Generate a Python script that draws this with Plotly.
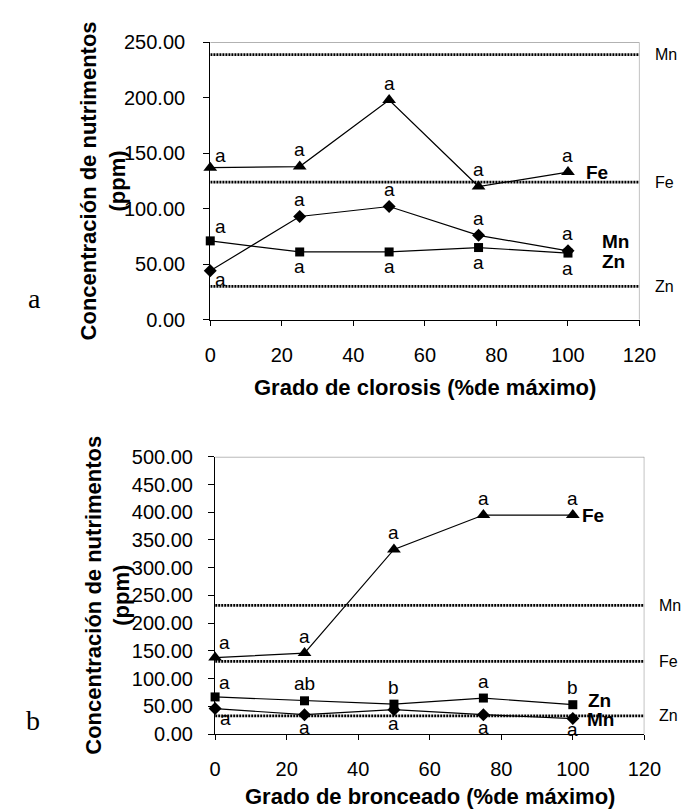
import plotly.graph_objects as go

# ---------------- data ----------------
x_pts = [0, 25, 50, 75, 100]
x_ticks = [0, 20, 40, 60, 80, 100, 120]

# Panel a: Grado de clorosis
fe_a = [137, 138, 198, 120, 133]
mn_a = [44, 93, 102, 76, 62]
zn_a = [71, 61, 61, 65, 60]
ref_names = ["Mn", "Fe", "Zn"]
ref_a = [239, 124, 30]
fe_a_lbl = ["a", "a", "a", "a", "a"]
mn_a_lbl = ["a", "a", "a", "a", "a"]
zn_a_lbl = ["a", "a", "a", "a", "a"]

# Panel b: Grado de bronceado
fe_b = [138, 146, 333, 395, 395]
mn_b = [46, 35, 44, 35, 28]
zn_b = [67, 60, 54, 65, 53]
ref_b = [232, 131, 33]
fe_b_lbl = ["a", "a", "a", "a", "a"]
zn_b_lbl = ["a", "ab", "b", "a", "b"]
mn_b_lbl = ["a", "a", "a", "a", "a"]

y_title = "Concentración de nutrimentos<br>(ppm)"
x_title_a = "Grado de clorosis (%de máximo)"
x_title_b = "Grado de bronceado (%de máximo)"

# ---------------- figure ----------------
W, H = 693, 812
FONT = "Liberation Sans, Arial, sans-serif"

def px_x(p):
    return p / W

def px_y(p):
    return 1 - p / H

fig = go.Figure()

marker_defs = {
    "Fe": dict(symbol="triangle-up", size=12),
    "Mn": dict(symbol="diamond", size=10),
    "Zn": dict(symbol="square", size=9),
}

def add_series(xa, ya, vals, key):
    fig.add_trace(go.Scatter(
        x=x_pts, y=vals, mode="lines+markers", xaxis=xa, yaxis=ya,
        line=dict(color="black", width=1.2),
        marker=dict(color="black", **marker_defs[key]),
        cliponaxis=False, showlegend=False, hoverinfo="skip"))

add_series("x", "y", fe_a, "Fe")
add_series("x", "y", mn_a, "Mn")
add_series("x", "y", zn_a, "Zn")
add_series("x2", "y2", fe_b, "Fe")
add_series("x2", "y2", mn_b, "Mn")
add_series("x2", "y2", zn_b, "Zn")

shapes = []
annotations = []

def add_refs(xref, yref, refs):
    for name, v in zip(ref_names, refs):
        shapes.append(dict(type="line", xref=xref, yref=yref, x0=-0.8, x1=120, y0=v, y1=v,
                           line=dict(color="black", width=2.8, dash="2px,1px"), layer="below"))
        annotations.append(dict(xref=xref + " domain", yref=yref, x=1, xshift=13, y=v,
                                text=name, showarrow=False, xanchor="left", yanchor="middle",
                                font=dict(family=FONT, size=16, color="black")))

add_refs("x", "y", ref_a)
add_refs("x2", "y2", ref_b)

# grey frame (top + right)
for xref, yref, ytop in [("x", "y", 250), ("x2", "y2", 500)]:
    shapes.append(dict(type="line", xref=xref, yref=yref, x0=0, x1=120, y0=ytop, y1=ytop,
                       line=dict(color="#999999", width=1.2)))
    shapes.append(dict(type="line", xref=xref, yref=yref, x0=120, x1=120, y0=0, y1=ytop,
                       line=dict(color="#999999", width=1.2)))

def add_letters(xref, yref, vals, lbls, offsets):
    for xv, yv, t, (dx, dy) in zip(x_pts, vals, lbls, offsets):
        annotations.append(dict(xref=xref, yref=yref, x=xv, y=yv, text=t, showarrow=False,
                                xshift=dx, yshift=-dy, xanchor="center", yanchor="middle",
                                font=dict(family=FONT, size=19, color="black")))

up = (0, -17)
dn = (0, 15)
add_letters("x", "y", fe_a, fe_a_lbl, [(10, -12), up, up, up, up])
add_letters("x", "y", mn_a, mn_a_lbl, [(10, 9), up, up, up, up])
add_letters("x", "y", zn_a, zn_a_lbl, [(10, -14), dn, dn, dn, dn])
add_letters("x2", "y2", fe_b, fe_b_lbl, [(9, -15), up, up, up, up])
add_letters("x2", "y2", zn_b, zn_b_lbl, [(9, -14), up, up, up, up])
add_letters("x2", "y2", mn_b, mn_b_lbl, [(10, 10), (0, 13), (0, 14), (0, 13), (0, 11)])

# bold series labels
def series_label(xref, yref, y, text, xshift):
    annotations.append(dict(xref=xref, yref=yref, x=100, y=y, text="<b>%s</b>" % text,
                            showarrow=False, xanchor="left", yanchor="middle", xshift=xshift,
                            font=dict(family=FONT, size=19, color="black")))

series_label("x", "y", fe_a[4], "Fe", 16)
series_label("x", "y", 70, "Mn", 32)
series_label("x", "y", 52, "Zn", 32)
series_label("x2", "y2", fe_b[4], "Fe", 7)
series_label("x2", "y2", 61, "Zn", 13)
series_label("x2", "y2", 26, "Mn", 12)

# axis titles
for cx, cy, t in [(425, 379, x_title_a), (430, 799, x_title_b)]:
    annotations.append(dict(xref="paper", yref="paper", x=px_x(cx), y=px_y(cy), text="<b>%s</b>" % t,
                            showarrow=False, xanchor="center", yanchor="middle",
                            font=dict(family=FONT, size=22, color="black")))
for cx, cy in [(92, 166), (97, 592)]:
    annotations.append(dict(xref="paper", yref="paper", x=px_x(cx), y=px_y(cy), text="<b>%s</b>" % y_title,
                            showarrow=False, xanchor="center", yanchor="middle", textangle=-90,
                            font=dict(family=FONT, size=22, color="black")))

# panel letters
for cx, cy, t in [(21, 287, "a"), (20, 721, "b")]:
    annotations.append(dict(xref="paper", yref="paper", x=px_x(cx), y=px_y(cy), text=t,
                            showarrow=False, xanchor="center", yanchor="middle",
                            font=dict(family="Liberation Serif, Times New Roman, serif", size=28, color="black")))

xaxis_common = dict(range=[0, 120], tickvals=x_ticks, ticks="outside", ticklen=5, tickcolor="black",
                    showline=True, linecolor="black", linewidth=1.2, showgrid=False, zeroline=False,
                    tickfont=dict(family=FONT, size=20, color="black"), ticklabelstandoff=12)
yaxis_common = dict(dtick=50, tickformat=".2f", ticks="outside", ticklen=6, tickcolor="black",
                    showline=True, linecolor="black", linewidth=1.2, showgrid=False, zeroline=False,
                    tickfont=dict(family=FONT, size=20, color="black"))

fig.update_layout(
    width=W, height=H, margin=dict(l=0, r=0, t=0, b=0),
    paper_bgcolor="white", plot_bgcolor="white",
    xaxis=dict(domain=[px_x(203), px_x(647)], anchor="y", **xaxis_common),
    yaxis=dict(domain=[px_y(309), px_y(24)], anchor="x", range=[0, 250],
               ticklabelstandoff=14, **yaxis_common),
    xaxis2=dict(domain=[px_x(208), px_x(652)], anchor="y2", **xaxis_common),
    yaxis2=dict(domain=[px_y(735), px_y(450)], anchor="x2", range=[0, 500],
                ticklabelstandoff=11, **yaxis_common),
    shapes=shapes, annotations=annotations,
)

fig.write_html("out.html")
